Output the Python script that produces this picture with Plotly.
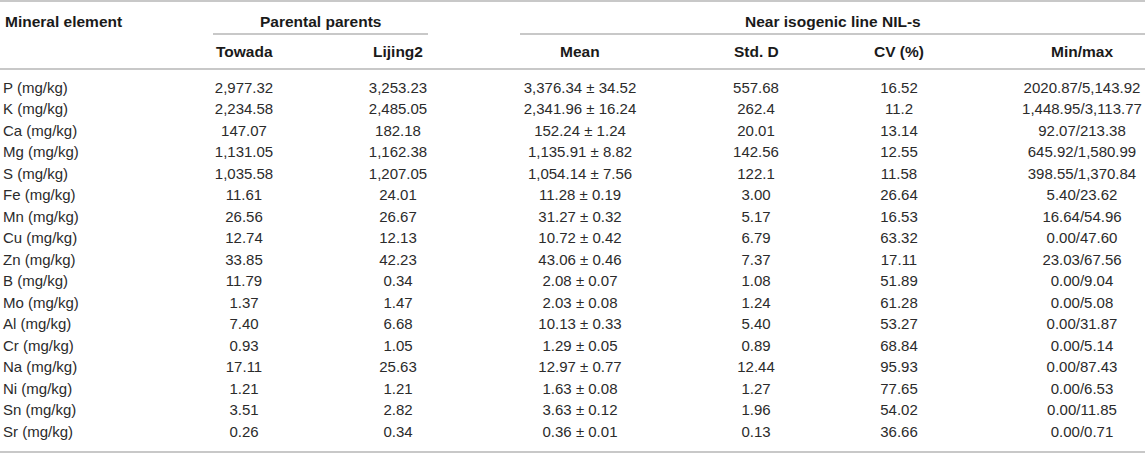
import plotly.graph_objects as go

# table content
elements = ["P (mg/kg)", "K (mg/kg)", "Ca (mg/kg)", "Mg (mg/kg)", "S (mg/kg)", "Fe (mg/kg)",
            "Mn (mg/kg)", "Cu (mg/kg)", "Zn (mg/kg)", "B (mg/kg)", "Mo (mg/kg)", "Al (mg/kg)",
            "Cr (mg/kg)", "Na (mg/kg)", "Ni (mg/kg)", "Sn (mg/kg)", "Sr (mg/kg)"]
towada = ["2,977.32", "2,234.58", "147.07", "1,131.05", "1,035.58", "11.61", "26.56", "12.74",
          "33.85", "11.79", "1.37", "7.40", "0.93", "17.11", "1.21", "3.51", "0.26"]
lijing2 = ["3,253.23", "2,485.05", "182.18", "1,162.38", "1,207.05", "24.01", "26.67", "12.13",
           "42.23", "0.34", "1.47", "6.68", "1.05", "25.63", "1.21", "2.82", "0.34"]
nil_mean = ["3,376.34", "2,341.96", "152.24", "1,135.91", "1,054.14", "11.28", "31.27", "10.72",
            "43.06", "2.08", "2.03", "10.13", "1.29", "12.97", "1.63", "3.63", "0.36"]
nil_se = ["34.52", "16.24", "1.24", "8.82", "7.56", "0.19", "0.32", "0.42",
          "0.46", "0.07", "0.08", "0.33", "0.05", "0.77", "0.08", "0.12", "0.01"]
std_d = ["557.68", "262.4", "20.01", "142.56", "122.1", "3.00", "5.17", "6.79",
         "7.37", "1.08", "1.24", "5.40", "0.89", "12.44", "1.27", "1.96", "0.13"]
cv = ["16.52", "11.2", "13.14", "12.55", "11.58", "26.64", "16.53", "63.32",
      "17.11", "51.89", "61.28", "53.27", "68.84", "95.93", "77.65", "54.02", "36.66"]
nil_min = ["2020.87", "1,448.95", "92.07", "645.92", "398.55", "5.40", "16.64", "0.00",
           "23.03", "0.00", "0.00", "0.00", "0.00", "0.00", "0.00", "0.00", "0.00"]
nil_max = ["5,143.92", "3,113.77", "213.38", "1,580.99", "1,370.84", "23.62", "54.96", "47.60",
           "67.56", "9.04", "5.08", "31.87", "5.14", "87.43", "6.53", "11.85", "0.71"]

group_headers = ["Parental parents", "Near isogenic line NIL-s"]
col_headers = ["Towada", "Lijing2", "Mean", "Std. D", "CV (%)", "Min/max"]

W, H = 1145, 453
FONT = "Liberation Sans, Arial, sans-serif"
TXT = "#2b2b2b"
RULE = "#c8c8c8"

# layout (pixel units)
row_y0, row_dy = 89, 21.5
head1_y, head2_y = 21, 51
col_x = [244, 398, 580, 756, 899, 1082]
group_span = [(213, 428), (520, 1145)]

mean_txt = [f"{m} ± {s}" for m, s in zip(nil_mean, nil_se)]
minmax_txt = [f"{a}/{b}" for a, b in zip(nil_min, nil_max)]
columns = [towada, lijing2, mean_txt, std_d, cv, minmax_txt]
rows_y = [row_y0 + row_dy * i for i in range(len(elements))]

body = dict(family=FONT, size=15, color=TXT)
bold = dict(family=FONT, size=15.5, color="#1a1a1a")

fig = go.Figure()

# first column, left aligned
fig.add_trace(go.Scatter(x=[3] * len(elements), y=rows_y, text=elements, mode="text",
                         textposition="middle right", textfont=body, hoverinfo="skip"))
# value columns
for cx, vals in zip(col_x, columns):
    fig.add_trace(go.Scatter(x=[cx] * len(vals), y=rows_y, text=vals, mode="text",
                             textposition="middle center", textfont=body, hoverinfo="skip"))

fig.add_annotation(x=3, y=head1_y, text="<b>Mineral element</b>", showarrow=False,
                   xanchor="left", font=bold)
for (a, b), g in zip(group_span, group_headers):
    fig.add_annotation(x=(a + b) / 2, y=head1_y, text=f"<b>{g}</b>", showarrow=False, font=bold)
    fig.add_shape(type="line", x0=a, x1=b, y0=34, y1=34, line=dict(color=RULE, width=2))
for cx, h in zip(col_x, col_headers):
    fig.add_annotation(x=cx, y=head2_y, text=f"<b>{h}</b>", showarrow=False, font=bold)

for yy in [1, 69, 452]:
    fig.add_shape(type="line", x0=0, x1=W, y0=yy, y1=yy, line=dict(color=RULE, width=2))

fig.update_layout(
    width=W, height=H,
    margin=dict(l=0, r=0, t=0, b=0),
    paper_bgcolor="white", plot_bgcolor="white",
    showlegend=False,
    xaxis=dict(range=[0, W], visible=False, fixedrange=True),
    yaxis=dict(range=[H, 0], visible=False, fixedrange=True),
)

fig.write_html("out.html", config={"displayModeBar": False},
               post_script="document.body.style.margin='0';")
